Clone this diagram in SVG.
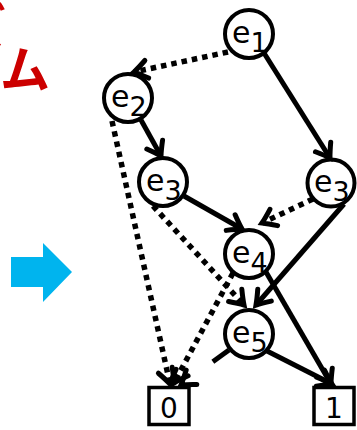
<svg xmlns="http://www.w3.org/2000/svg" width="357" height="430" viewBox="0 0 357 430">
  <style>
    .node circle { fill: #ffffff; stroke: #000000; stroke-width: 4; }
    .leaf rect { fill: #ffffff; stroke: #000000; stroke-width: 3.5; }
    .lbl { font-family: "DejaVu Sans", "Liberation Sans", sans-serif; font-size: 30px; fill: #000000; }
    .sub { font-size: 27px; }
    .leaf text { font-family: "DejaVu Sans", "Liberation Sans", sans-serif; font-size: 28px; text-anchor: middle; fill: #000000; }
    .hi { stroke: #000000; stroke-width: 5; fill: none; marker-end: url(#chev); }
    .lo { stroke: #000000; stroke-width: 5.5; fill: none; stroke-dasharray: 5.5 5; marker-end: url(#chev); }
    .jp { font-family: "Noto Sans CJK JP", sans-serif; font-size: 50px; font-weight: 700; fill: #cc0000; }
  </style>
  <defs>
    <marker id="chev" markerUnits="userSpaceOnUse" viewBox="-18 -14 22 28" refX="0" refY="0" markerWidth="22" markerHeight="28" orient="auto" overflow="visible">
      <path d="M-13,-9 Q-5,-3 0,0 Q-5,3 -13,9" fill="none" stroke="#000000" stroke-width="5" stroke-linecap="round"/>
    </marker>
  </defs>

  <!-- heading text running off the left edge -->
  <text class="jp" x="-44" y="46">ズ</text>
  <text class="jp" x="0" y="88">ム</text>

  <!-- transformation arrow -->
  <polygon points="11,257 43,257 43,243 72,272 43,302 43,287 11,287" fill="#00b4ee"/>

  <!-- nodes -->
  <g id="e1" class="node">
    <circle cx="249" cy="34" r="24"/>
    <text class="lbl" x="232" y="43">e<tspan class="sub" dy="9">1</tspan></text>
  </g>
  <g id="e2" class="node">
    <circle cx="128" cy="98" r="24"/>
    <text class="lbl" x="111" y="107">e<tspan class="sub" dy="9">2</tspan></text>
  </g>
  <g id="e3a" class="node">
    <circle cx="163" cy="182" r="24"/>
    <text class="lbl" x="146" y="191">e<tspan class="sub" dy="9">3</tspan></text>
  </g>
  <g id="e3b" class="node">
    <circle cx="331" cy="183" r="23.5"/>
    <text class="lbl" x="314" y="192">e<tspan class="sub" dy="9">3</tspan></text>
  </g>
  <g id="e4" class="node">
    <circle cx="249" cy="254" r="24"/>
    <text class="lbl" x="232" y="263">e<tspan class="sub" dy="9">4</tspan></text>
  </g>
  <g id="e5" class="node">
    <circle cx="249" cy="334" r="24"/>
    <text class="lbl" x="232" y="343">e<tspan class="sub" dy="9">5</tspan></text>
  </g>
  <g id="t0" class="leaf">
    <rect x="149" y="387.5" width="40" height="37"/>
    <text x="169" y="418">0</text>
  </g>
  <g id="t1" class="leaf">
    <rect x="314" y="387.5" width="40" height="37"/>
    <text x="334" y="418">1</text>
  </g>

  <!-- connectors: solid = high edge, dotted = low edge -->
  <g id="edges">
    <line class="lo" x1="228" y1="52" x2="134" y2="72"/>
    <line class="hi" x1="264" y1="53" x2="330" y2="158"/>
    <line class="hi" x1="141" y1="120" x2="161" y2="156"/>
    <line class="lo" x1="112" y1="121" x2="170" y2="384"/>
    <line class="hi" x1="184" y1="196" x2="242" y2="229"/>
    <line class="lo" x1="153" y1="206" x2="244" y2="305"/>
    <line class="lo" x1="313" y1="199" x2="262" y2="223"/>
    <line class="hi" x1="344" y1="204" x2="256" y2="305"/>
    <line class="hi" x1="266" y1="272" x2="331" y2="384"/>
    <line class="lo" x1="233" y1="273" x2="174" y2="383"/>
    <line class="hi" x1="267" y1="351" x2="332" y2="384"/>
    <line class="hi" x1="229" y1="350" x2="181" y2="385" stroke-dasharray="20 60"/>
  </g>
</svg>
